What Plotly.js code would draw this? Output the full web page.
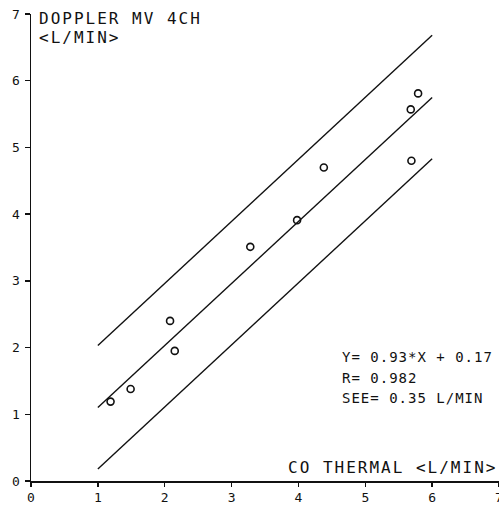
<!DOCTYPE html>
<html>
<head>
<meta charset="utf-8">
<script src="https://cdn.plot.ly/plotly-3.0.1.min.js"></script>
<style>
html,body{margin:0;padding:0;background:#fff;}
#chart{width:499px;height:507px;}
</style>
</head>
<body>
<div id="chart"></div>
<script>
// Data
const coThermal = [1.19, 1.49, 2.08, 2.15, 3.28, 3.98, 4.38, 5.69, 5.68, 5.79];
const dopplerMV = [1.19, 1.38, 2.40, 1.95, 3.51, 3.91, 4.70, 4.80, 5.57, 5.81];
const lineX = [1, 6];
const regression = [1.10, 5.75];
const upperBand = [2.03, 6.68];
const lowerBand = [0.18, 4.83];
const tickVals = [0, 1, 2, 3, 4, 5, 6, 7];
const tickText = ['0', '1', '2', '3', '4', '5', '6', '7'];

const FONT = 'DejaVu Sans Mono, Liberation Mono, monospace';

const lineStyle = {color: '#111', width: 1.4};
const traces = [
  {x: lineX, y: upperBand, mode: 'lines', line: lineStyle, hoverinfo: 'skip'},
  {x: lineX, y: regression, mode: 'lines', line: lineStyle, hoverinfo: 'skip'},
  {x: lineX, y: lowerBand, mode: 'lines', line: lineStyle, hoverinfo: 'skip'},
  {x: coThermal, y: dopplerMV, mode: 'markers',
   marker: {symbol: 'circle-open', size: 7, color: '#111', line: {width: 1.6, color: '#111'}}}
];

const axisCommon = {
  range: [0, 7], tickvals: tickVals, ticktext: tickText,
  showgrid: false, zeroline: false, showline: true,
  linecolor: '#111', linewidth: 1.5,
  ticks: 'outside', ticklen: 5, tickwidth: 1.5, tickcolor: '#111',
  ticklabeloverflow: 'allow',
  tickfont: {family: FONT, size: 13, color: '#111'}, fixedrange: true
};

function spaced(t, s) { return '<span style="letter-spacing:' + s + 'px">' + t + '</span>'; }

const layout = {
  width: 499, height: 507,
  margin: {l: 31, r: 0, t: 14, b: 25.5},
  paper_bgcolor: '#fff', plot_bgcolor: '#fff',
  showlegend: false,
  xaxis: Object.assign({}, axisCommon, {ticklen: 4, ticklabelstandoff: 0}),
  yaxis: Object.assign({}, axisCommon, {ticklabelstandoff: 2}),
  annotations: [
    {x: 0.09, y: 6.94, xref: 'x', yref: 'y', xanchor: 'left', yanchor: 'middle', showarrow: false,
     text: spaced('DOPPLER MV 4CH', 2), font: {family: FONT, size: 16, color: '#111'}},
    {x: 0.09, y: 6.65, xref: 'x', yref: 'y', xanchor: 'left', yanchor: 'middle', showarrow: false,
     text: spaced('&lt;L/MIN&gt;', 2), font: {family: FONT, size: 16, color: '#111'}},
    {x: 3.82, y: 0.20, xref: 'x', yref: 'y', xanchor: 'left', yanchor: 'middle', showarrow: false,
     text: spaced('CO THERMAL &lt;L/MIN&gt;', 2), font: {family: FONT, size: 16, color: '#111'}},
    {x: 4.62, y: 1.86, xref: 'x', yref: 'y', xanchor: 'left', yanchor: 'middle', showarrow: false,
     text: spaced('Y= 0.93*X + 0.17', 1), font: {family: FONT, size: 14, color: '#111'}},
    {x: 4.62, y: 1.54, xref: 'x', yref: 'y', xanchor: 'left', yanchor: 'middle', showarrow: false,
     text: spaced('R= 0.982', 1), font: {family: FONT, size: 14, color: '#111'}},
    {x: 4.62, y: 1.25, xref: 'x', yref: 'y', xanchor: 'left', yanchor: 'middle', showarrow: false,
     text: spaced('SEE= 0.35 L/MIN', 1), font: {family: FONT, size: 14, color: '#111'}}
  ]
};

Plotly.newPlot('chart', traces, layout, {staticPlot: true, displayModeBar: false});
</script>
</body>
</html>
